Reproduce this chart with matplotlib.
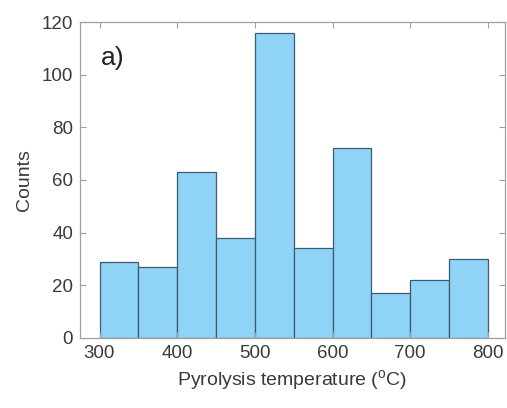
import matplotlib
matplotlib.use('Agg')
import matplotlib.pyplot as plt

plt.rcParams['font.family'] = ['Liberation Sans', 'DejaVu Sans']
plt.rcParams['mathtext.fontset'] = 'custom'
plt.rcParams['mathtext.rm'] = 'Liberation Sans'

# histogram bins (pyrolysis temperature, C) and counts
bin_edges = [300, 350, 400, 450, 500, 550, 600, 650, 700, 750, 800]
counts = [29, 27, 63, 38, 116, 34, 72, 17, 22, 30]
xticks = [300, 400, 500, 600, 700, 800]
yticks = [0, 20, 40, 60, 80, 100, 120]

bar_color = '#8fd4f6'
edge_color = '#3d5a6e'
axis_color = '#a0a0a0'
text_color = '#3a3a3a'

fig = plt.figure(figsize=(5.07, 4.08), dpi=100)
ax = fig.add_axes([0.158, 0.172, 0.838, 0.774])

# bars drawn from bin edges
lefts = bin_edges[:-1]
widths = [b - a for a, b in zip(bin_edges[:-1], bin_edges[1:])]
ax.bar(lefts, counts, width=widths, align='edge', color=bar_color,
       edgecolor=edge_color, linewidth=0.9)

ax.set_xlim(275, 822)
ax.set_ylim(0, 120)
ax.set_xticks(xticks)
ax.set_yticks(yticks)

ax.tick_params(direction='in', top=True, right=True, length=4,
               width=0.8, color=axis_color, labelsize=13.5,
               labelcolor=text_color, pad=5)
for s in ax.spines.values():
    s.set_color(axis_color)
    s.set_linewidth(0.9)

ax.set_xlabel('Pyrolysis temperature ($^{\\mathrm{o}}$C)', fontsize=14,
              color=text_color, labelpad=5)
ax.set_ylabel('Counts', fontsize=14, color=text_color, labelpad=6)
ax.text(0.05, 0.925, 'a)', transform=ax.transAxes, fontsize=19,
        color='#222222', va='top', ha='left')

plt.savefig('out.png', dpi=100)
